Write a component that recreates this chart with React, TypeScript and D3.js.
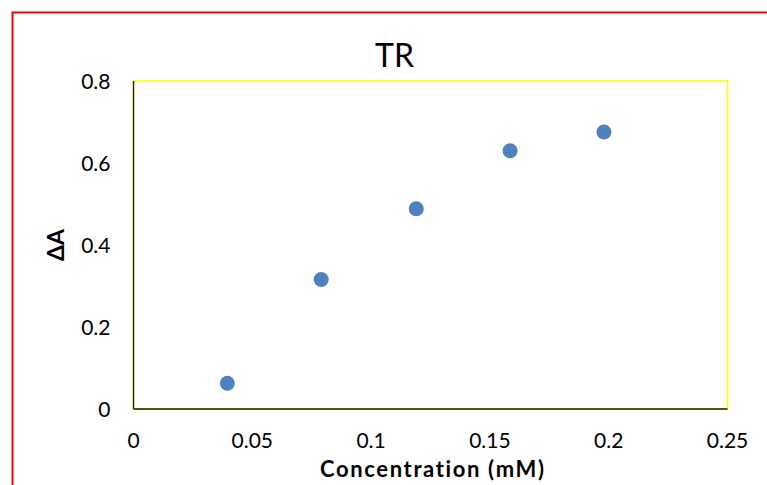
import React from "react";
import * as d3 from "d3";

const concentration = [0.0395, 0.079, 0.119, 0.1585, 0.198];
const deltaA = [0.0627, 0.316, 0.4885, 0.63, 0.6756];
const xTicks = [0, 0.05, 0.1, 0.15, 0.2, 0.25];
const yTicks = [0, 0.2, 0.4, 0.6, 0.8];
const title = "TR";
const xTitle = "Concentration (mM)";
const yTitle = "ΔA";

const W = 767;
const H = 485;
const plot = { left: 133.5, right: 727.5, top: 81, bottom: 409 };
const FONT = "Lato, 'Open Sans', sans-serif";

export default function App() {
  const x = d3.scaleLinear().domain([0, 0.25]).range([plot.left, plot.right]);
  const y = d3.scaleLinear().domain([0, 0.8]).range([plot.bottom, plot.top]);
  const fmt = (v: number) => String(+v.toFixed(2));
  return (
    <div style={{ position: "fixed", left: 0, top: 0 }}>
      <svg
        width={W}
        height={H}
        style={{ display: "block", background: "#fff", fontVariantLigatures: "none", fontFeatureSettings: "'liga' 0, 'clig' 0" }}
      >
        <rect x={12.5} y={12.5} width={W + 20} height={H + 20} fill="#fff" stroke="#ff0000" strokeWidth={2} />
        <rect
          x={plot.left}
          y={plot.top}
          width={plot.right - plot.left}
          height={plot.bottom - plot.top}
          fill="none"
          stroke="#ffff00"
          strokeWidth={1.5}
        />
        <line x1={plot.left} x2={plot.left} y1={plot.top} y2={plot.bottom} stroke="#1a1a00" strokeWidth={1.3} />
        <line x1={plot.left} x2={plot.right} y1={plot.bottom} y2={plot.bottom} stroke="#1a1a00" strokeWidth={1.3} />
        {yTicks.map((t) => (
          <text
            key={"y" + t}
            x={110.5}
            y={y(t)}
            dy="0.36em"
            textAnchor="end"
            fontFamily={FONT}
            fontSize={21}
            fill="#000"
          >
            {fmt(t)}
          </text>
        ))}
        {xTicks.map((t) => (
          <text
            key={"x" + t}
            x={x(t)}
            y={448.3}
            textAnchor="middle"
            fontFamily={FONT}
            fontSize={21}
            fill="#000"
          >
            {fmt(t)}
          </text>
        ))}
        {concentration.map((c, i) => (
          <circle key={i} cx={x(c)} cy={y(deltaA[i])} r={7.5} fill="#4f81bd" />
        ))}
        <text x={394.5} y={67.3} textAnchor="middle" fontFamily={FONT} fontSize={32} fill="#000">
          {title}
        </text>
        <text
          x={432}
          y={477.3}
          textAnchor="middle"
          fontFamily={FONT}
          fontSize={22}
          fontWeight="bold"
          textLength={224}
          lengthAdjust="spacing"
          fill="#000"
        >
          {xTitle}
        </text>
        <text
          transform={`translate(63.5,245) rotate(-90)`}
          textAnchor="middle"
          fontFamily={FONT}
          fontSize={23}
          fontWeight="bold"
          fill="#000"
        >
          {yTitle}
        </text>
      </svg>
    </div>
  );
}
